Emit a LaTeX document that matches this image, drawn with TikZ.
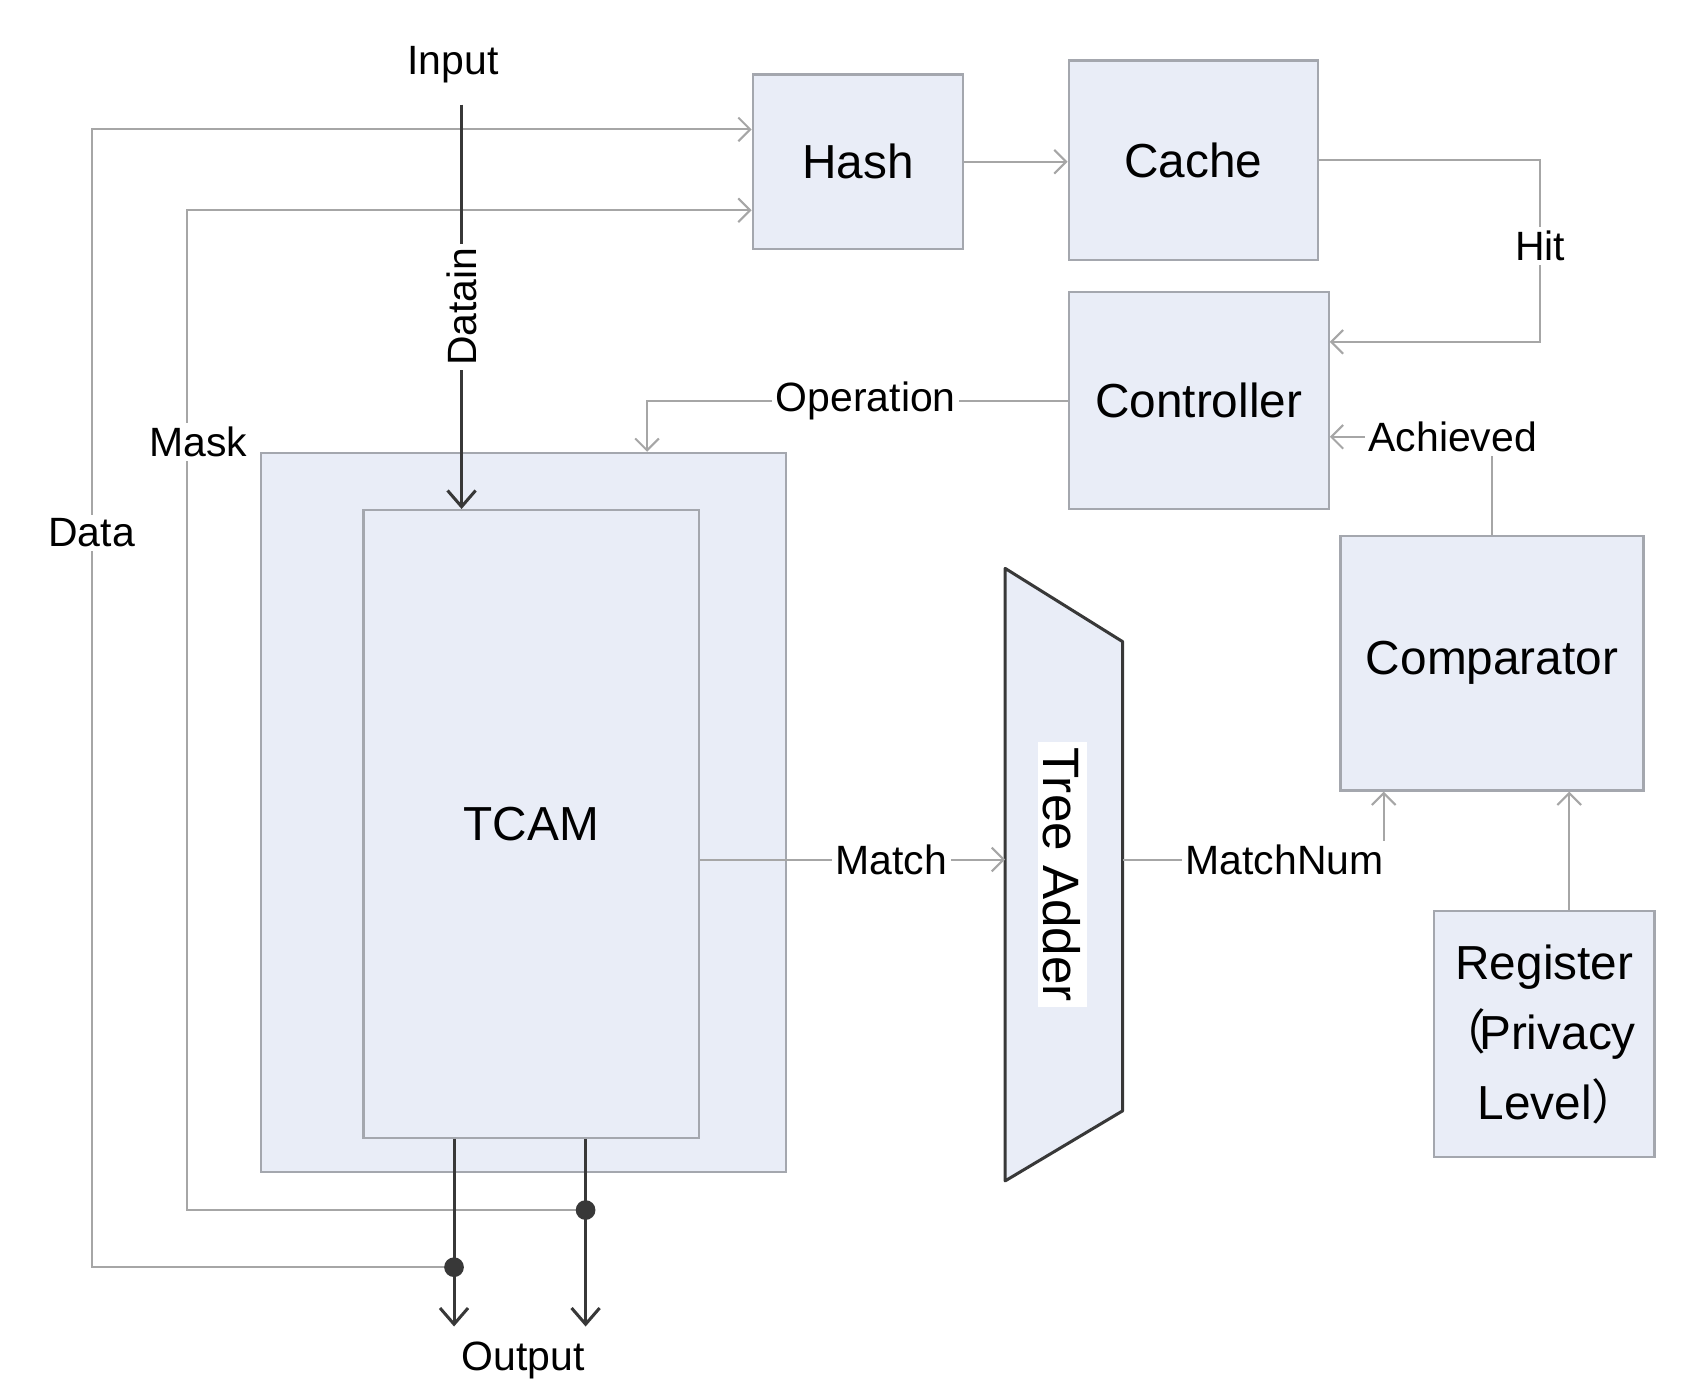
\documentclass[tikz,border=0pt]{standalone}
\usepackage{fontspec}
\setmainfont{Liberation Sans}
\newfontfamily\cjkfont{Noto Sans CJK JP}
\usetikzlibrary{arrows.meta}

\definecolor{boxfill}{HTML}{E9EDF7}
\definecolor{boxline}{HTML}{A4A7AE}
\definecolor{wiregray}{HTML}{A6A6A6}
\definecolor{busdark}{HTML}{383838}

\tikzset{
  blk/.style={draw=boxline, fill=boxfill, line width=0.6pt, inner sep=0pt,
    align=center, font=\fontsize{12.6}{18.5}\selectfont},
  wire/.style={draw=wiregray, line width=0.55pt},
  bus/.style={draw=busdark, line width=0.8pt,
    >={Straight Barb[length=1.5mm,width=2.6mm]}},
  lbl/.style={fill=white, inner sep=1pt, font=\fontsize{10.8}{13}\selectfont},
  adderbox/.style={draw=busdark, fill=boxfill, line width=0.8pt, line join=round}
}

\begin{document}
\begin{tikzpicture}[>={Straight Barb[length=1.1mm,width=2.2mm]}]
\useasboundingbox (0,0) rectangle (15.68,-12.81);

% blocks
\node[blk, minimum width=1.95cm, minimum height=1.62cm] (hash) at (7.955,-1.50) {Hash};
\node[blk, minimum width=2.31cm, minimum height=1.85cm] (cache) at (11.065,-1.485) {Cache};
\node[blk, minimum width=2.41cm, minimum height=2.01cm] (ctrl) at (11.115,-3.715) {Controller};
\node[blk, minimum width=2.81cm, minimum height=2.36cm] (cmp) at (13.835,-6.15) {Comparator};
\node[blk, minimum width=2.04cm, minimum height=2.28cm] (reg) at (14.32,-9.59)
  {Register\\\kern-0.3em{\cjkfont （}\kern-0.15emPrivacy\\\kern0.3emLevel{\cjkfont ）}\kern-0.3em};

\node[blk, minimum width=4.87cm, minimum height=6.67cm] (tcam) at (4.855,-7.535) {};
\node[blk, minimum width=3.11cm, minimum height=5.82cm] (core) at (4.925,-7.64) {TCAM};

% tree adder
\coordinate (ta1) at (9.32,-5.27);
\coordinate (ta2) at (10.41,-5.95);
\coordinate (ta3) at (10.41,-10.30);
\coordinate (ta4) at (9.32,-10.95);
\draw[adderbox] (ta1) -- (ta2) -- (ta3) -- (ta4) -- cycle;
\node[lbl, rotate=-90, inner sep=1.5pt, font=\fontsize{13.5}{16}\selectfont] (adder) at (9.85,-8.11) {Tree Adder};

\coordinate (adderIn) at (9.32,-7.97);
\coordinate (adderOut) at (10.41,-7.97);

\coordinate (dotA) at (4.21,-11.75);
\coordinate (dotB) at (5.43,-11.22);
\coordinate (outA) at (4.21,-12.30);
\coordinate (outB) at (5.43,-12.30);

% feedback to the hash
\draw[wire,->] (dotA) -| (0.85,-4.94) node[lbl] (data) {Data} |- ([yshift=3mm]hash.west);
\draw[wire,->] (dotB) -| (1.73,-4.10) node[lbl,xshift=1.1mm] (mask) {Mask} |- ([yshift=-4.5mm]hash.west);

\draw[wire,->] (hash.east) -- (hash.east -| cache.west);
\draw[wire,->] (cache.east) -| (14.28,-2.28) node[lbl] (hit) {Hit} |- ([yshift=5.45mm]ctrl.east);
\draw[wire,->] (ctrl.west) -| node[lbl,pos=0.24] (op) {Operation} ([xshift=11.45mm]tcam.north);

\draw[wire,->] (cmp.north) |- ([yshift=-3.35mm]ctrl.east);
\node[lbl] (ach) at (13.47,-4.05) {Achieved};

\draw[wire,->] (core.east |- adderIn) -- node[lbl,pos=0.627] (match) {Match} (adderIn);
\draw[wire,->] (adderOut) -| node[lbl,pos=0.31] (num) {MatchNum} ([xshift=-10.05mm]cmp.south);
\draw[wire,->] ([xshift=2.3mm]reg.north) -- ([xshift=2.3mm]reg.north |- cmp.south);

% input and outputs
\node[lbl, fill=none] (input) at (4.20,-0.60) {Input};
\coordinate (inTop) at (4.28,-0.97);
\draw[bus,->] (inTop) -- node[lbl, rotate=90] (datain) {Datain} (inTop |- core.north);

\foreach \p in {A,B} {
  \draw[bus,->] (core.south -| out\p) -- (out\p);
  \fill[busdark] (dot\p) circle (2.6pt);
}

\node[lbl, fill=none, anchor=base, inner sep=0pt] (output) at (4.85,-12.71) {Output};

\end{tikzpicture}
\end{document}
